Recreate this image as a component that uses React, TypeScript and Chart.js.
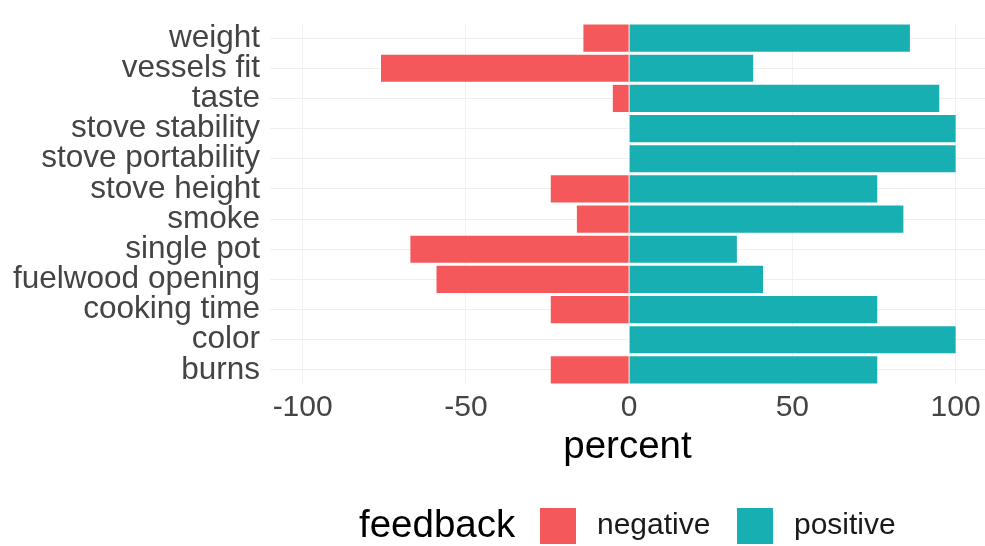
import React, { useEffect, useRef } from "react";
import { Chart, registerables } from "chart.js";

Chart.register(...registerables);

const categories = [
  "weight",
  "vessels fit",
  "taste",
  "stove stability",
  "stove portability",
  "stove height",
  "smoke",
  "single pot",
  "fuelwood opening",
  "cooking time",
  "color",
  "burns",
];
const negativeValues = [-14, -76, -5, 0, 0, -24, -16, -67, -59, -24, 0, -24];
const positiveValues = [86, 38, 95, 100, 100, 76, 84, 33, 41, 76, 100, 76];
const xTicks = [-100, -50, 0, 50, 100];
const seriesNames = ["negative", "positive"];
const seriesColors = ["#F5585B", "#17AFB2"];
const legendTitle = "feedback";
const xTitle = "percent";

const FONT = "'Liberation Sans', Arial, Helvetica, sans-serif";

const legendPlugin = {
  id: "ggLegend",
  afterDraw(chart: any) {
    const ctx = chart.ctx;
    ctx.save();
    const cy = 526;
    ctx.textBaseline = "middle";
    ctx.textAlign = "left";
    ctx.fillStyle = "#000000";
    ctx.font = `38.5px ${FONT}`;
    ctx.fillText(legendTitle, 359, cy);
    const items = chart.data.datasets;
    const keyX = [540, 737];
    ctx.font = `30px ${FONT}`;
    items.forEach((ds: any, i: number) => {
      ctx.fillStyle = ds.backgroundColor;
      ctx.fillRect(keyX[i], cy - 18, 36, 36);
      ctx.fillStyle = "#1a1a1a";
      ctx.fillText(ds.label, keyX[i] + 57, cy);
    });
    ctx.restore();
  },
};

export default function App() {
  const canvasRef = useRef<HTMLCanvasElement | null>(null);

  useEffect(() => {
    if (!canvasRef.current) return;
    const chart = new Chart(canvasRef.current, {
      type: "bar",
      data: {
        labels: categories,
        datasets: [
          {
            label: seriesNames[0],
            data: negativeValues,
            backgroundColor: seriesColors[0],
            borderWidth: 0,
            barPercentage: 1,
            categoryPercentage: 0.9,
          },
          {
            label: seriesNames[1],
            data: positiveValues,
            backgroundColor: seriesColors[1],
            borderWidth: 0,
            barPercentage: 1,
            categoryPercentage: 0.9,
          },
        ],
      },
      options: {
        indexAxis: "y",
        animation: false,
        responsive: false,
        maintainAspectRatio: false,
        layout: { padding: { top: 23, bottom: 76, left: 0, right: 0 } },
        plugins: {
          legend: { display: false },
          tooltip: { enabled: false },
        },
        scales: {
          x: {
            type: "linear",
            stacked: true,
            min: -110,
            max: 109,
            afterBuildTicks: (scale: any) => {
              scale.ticks = xTicks.map((v) => ({ value: v }));
            },
            afterFit: (scale: any) => {
              scale.height = 85;
              scale.paddingLeft = 0;
              scale.paddingRight = 0;
            },
            grid: { color: "#f2f2f2", lineWidth: 1, drawTicks: false },
            border: { display: false },
            ticks: {
              color: "#444444",
              font: { family: FONT, size: 30 },
              padding: 5,
              maxRotation: 0,
              autoSkip: false,
            },
            title: {
              display: true,
              text: xTitle,
              color: "#000000",
              font: { family: FONT, size: 38.5 },
              padding: { top: 0, bottom: 0 },
            },
          },
          y: {
            type: "category",
            stacked: true,
            afterFit: (scale: any) => {
              scale.width = 270;
              scale.paddingTop = 0;
              scale.paddingBottom = 0;
            },
            grid: { color: "#efefef", lineWidth: 1, drawTicks: false, offset: false },
            border: { display: false },
            ticks: {
              color: "#444444",
              font: { family: FONT, size: 31.5 },
              padding: 10,
              autoSkip: false,
            },
          },
        },
      },
      plugins: [legendPlugin],
    });
    return () => chart.destroy();
  }, []);

  return (
    <div style={{ position: "absolute", left: 0, top: 0, width: 985, height: 546, background: "#ffffff" }}>
      <canvas ref={canvasRef} width={985} height={546} style={{ display: "block" }} />
    </div>
  );
}
